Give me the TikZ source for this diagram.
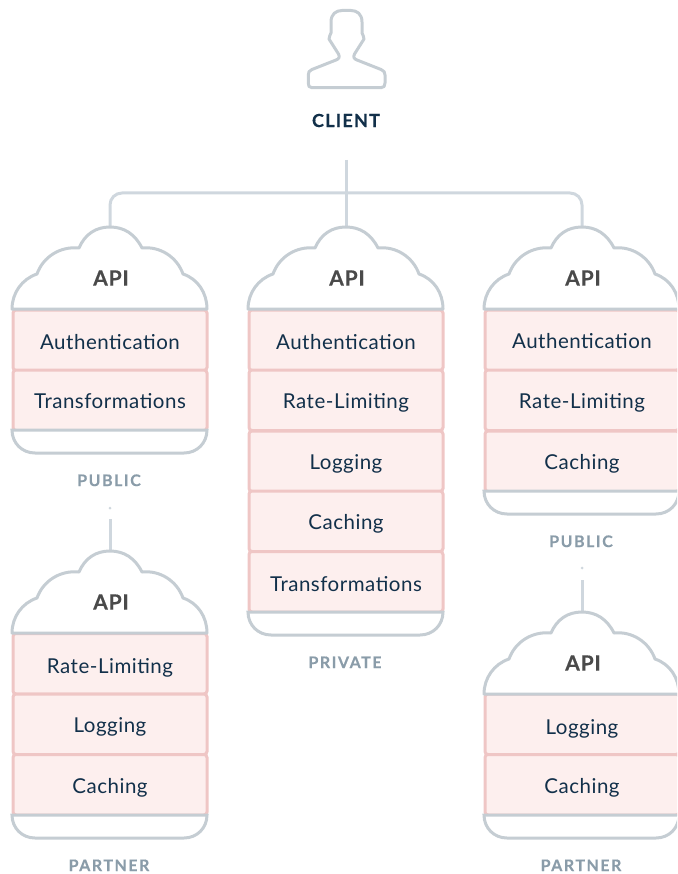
\documentclass[tikz,border=0pt]{standalone}
\usepackage{fontspec}
\setmainfont{Lato}
\definecolor{linegrey}{HTML}{C5CDD3}
\definecolor{wiregrey}{HTML}{CFD7DE}
\definecolor{boxfill}{HTML}{FDEFEE}
\definecolor{boxline}{HTML}{EFC6C5}
\definecolor{navy}{HTML}{12304A}
\definecolor{apigrey}{HTML}{4A4A4A}
\definecolor{taggrey}{HTML}{8A9CA9}
\tikzset{
  plugin/.style={draw=boxline,fill=boxfill,line width=3pt,rounded corners=3pt,minimum width=194pt,minimum height=60.5pt,inner sep=0pt,outer sep=0pt,text=navy,font=\fontsize{20.5}{24}\selectfont\addfontfeature{LetterSpace=2.5},anchor=north,text height=17pt,text depth=0pt},
  apilabel/.style={text=apigrey,font=\fontsize{21}{24}\selectfont\bfseries\addfontfeature{LetterSpace=4,FakeBold=0.4},inner sep=0pt},
  taglabel/.style={text=taggrey,font=\fontsize{16}{20}\selectfont\bfseries\addfontfeature{LetterSpace=9.5,FakeBold=0.4},inner sep=0pt},
  wire/.style={draw=wiregrey,line width=3pt,rounded corners=12pt},
  outline/.style={draw=linegrey,line width=3pt},
  dotmark/.style={circle,fill=wiregrey,inner sep=0pt,minimum size=3pt},
  pics/cloud/.style={code={
    \draw[outline,fill=white,line join=round] (-98,0)
      .. controls (-98,-16) and (-88,-30) .. (-73,-35)
      .. controls (-67,-52) and (-50,-63) .. (-31,-61)
      .. controls (-25,-75) and (-14,-82) .. (0,-82)
      .. controls (14,-82) and (25,-75) .. (32,-61)
      .. controls (50,-63) and (67,-52) .. (73,-35)
      .. controls (88,-30) and (97,-16) .. (97,0) -- cycle;
  }},
  pics/tray/.style={code={
    \draw[outline,fill=white] (-98,0) .. controls (-98,13) and (-88,23) .. (-75,23)
      -- (74,23) .. controls (87,23) and (97,13) .. (97,0) -- cycle;
  }}
}
\begin{document}
\begin{tikzpicture}[x=1pt,y=-1pt]
\useasboundingbox (0,0) rectangle (677,874);
\clip (0,0) rectangle (677,874);
% client icon
\draw[outline,line join=round] (331,33) -- (331,22)
  .. controls (331,14) and (336,10.5) .. (342,10.5)
  -- (351,10.5) .. controls (357,10.5) and (362,14) .. (362,22)
  -- (362,33) .. controls (362,35) and (364.5,36) .. (364,39)
  -- (354.5,54) .. controls (353,57) and (354,59) .. (357,60)
  -- (381,69.5) .. controls (384,71) and (385,72) .. (385,75)
  -- (385,83) .. controls (385,86) and (384,87.7) .. (381,87.7)
  -- (312,87.7) .. controls (309,87.7) and (308.3,86) .. (308.3,83)
  -- (308.3,75) .. controls (308.3,72) and (309,71) .. (312,69.5)
  -- (336,60) .. controls (339,59) and (340,57) .. (338.5,54)
  -- (329,39) .. controls (328.5,36) and (331,35) .. (331,33) -- cycle;
\node[text=navy,font=\fontsize{18}{22}\selectfont\bfseries\addfontfeature{LetterSpace=7,FakeBold=0.5},inner sep=0pt] (client) at (346,120.5) {CLIENT};
\coordinate (start) at (346,160);
\coordinate (topL) at (110,228);
\coordinate (topC) at (346,228);
\coordinate (topR) at (582,228);
\coordinate (tapL) at (110,519);
\coordinate (downL) at (110,552);
\coordinate (tapR) at (582,580);
\coordinate (downR) at (582,613);
\draw[wire] (start) -- (topC);
\draw[wire] (topL) -- (110,193) -- (582,193) -- (topR);
\draw[wire] (tapL) -- (downL);
\draw[wire] (tapR) -- (downR);
\node[dotmark] (dotL) at (110,508) {};
\node[dotmark] (dotR) at (582,568) {};
% left column, public
\node[plugin,text height=19pt] (a1) at (110,310) {Authentication};
\node[plugin] (a2) at (110,370) {Transformations};
\pic at (110,430) {tray};
\pic at (110,309) {cloud};
\node[apilabel] (apiA) at (111,278) {API};
\node[taglabel] (tagA) at (109,480.3) {PUBLIC};
% centre column
\node[plugin,text height=19pt] (b1) at (346,310) {Authentication};
\node[plugin] (b2) at (346,370) {Rate-Limiting};
\node[plugin,text height=16pt] (b3) at (346,431) {Logging};
\node[plugin] (b4) at (346,491) {Caching};
\node[plugin,text height=19pt] (b5) at (346,551.5) {Transformations};
\pic at (346,612) {tray};
\pic at (346,309) {cloud};
\node[apilabel] (apiB) at (347,278) {API};
\node[taglabel] (tagB) at (345,662.3) {PRIVATE};
% right column, public
\node[plugin,text height=16pt] (c1) at (582,310) {Authentication};
\node[plugin] (c2) at (582,370) {Rate-Limiting};
\node[plugin] (c3) at (582,431) {Caching};
\pic at (582,491) {tray};
\pic at (582,309) {cloud};
\node[apilabel] (apiC) at (583,278) {API};
\node[taglabel] (tagC) at (581,541.3) {PUBLIC};
% left column, partner
\node[plugin,text height=20pt] (d1) at (110,633.5) {Rate-Limiting};
\node[plugin] (d2) at (110,694) {Logging};
\node[plugin] (d3) at (110,754.5) {Caching};
\pic at (110,815) {tray};
\pic at (110,633) {cloud};
\node[apilabel] (apiD) at (111,602) {API};
\node[taglabel] (tagD) at (109,865.3) {PARTNER};
% right column, partner
\node[plugin,text height=20pt] (e1) at (582,694) {Logging};
\node[plugin] (e2) at (582,754.5) {Caching};
\pic at (582,815) {tray};
\pic at (582,694) {cloud};
\node[apilabel] (apiE) at (583,663) {API};
\node[taglabel] (tagE) at (581,865.3) {PARTNER};
\end{tikzpicture}
\end{document}
